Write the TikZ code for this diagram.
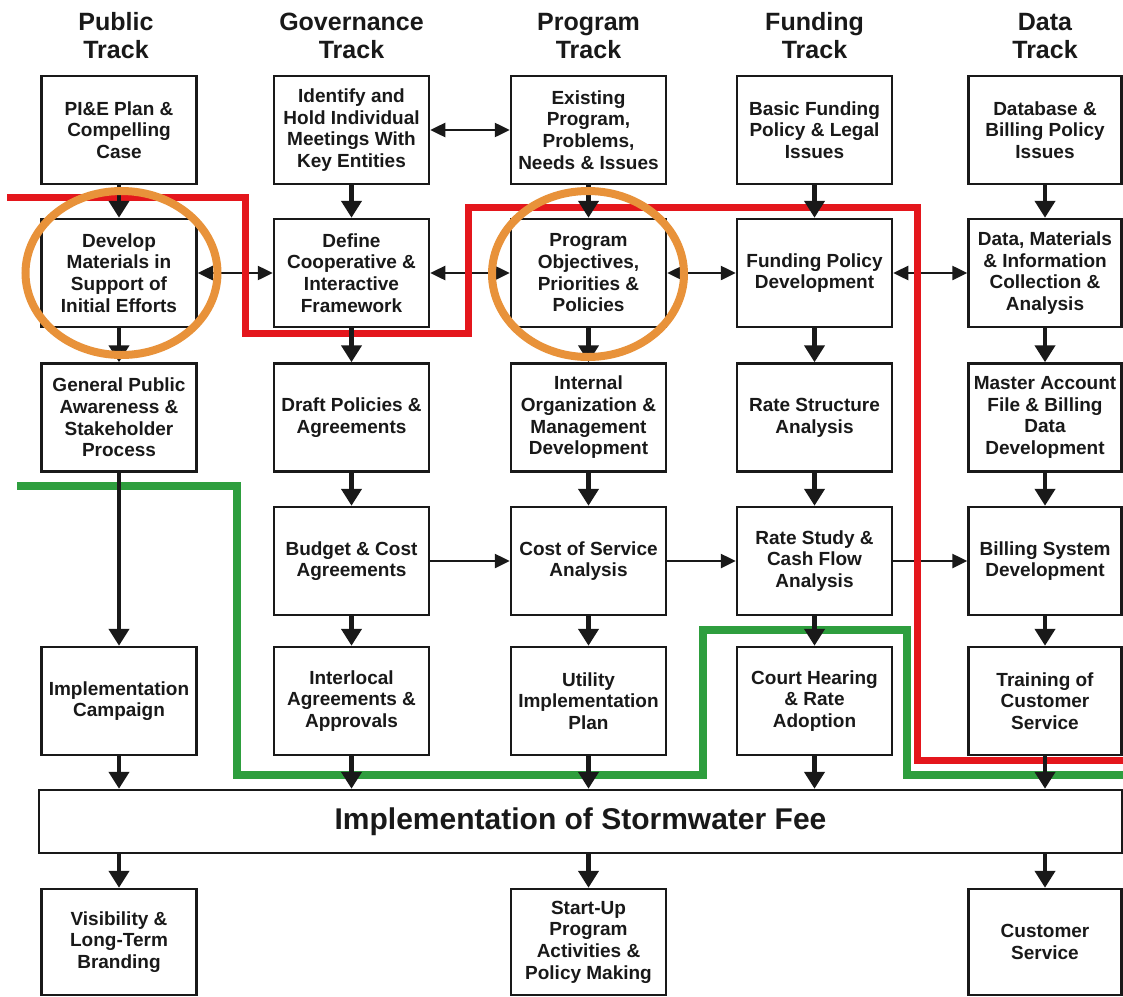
\documentclass[tikz,border=0pt]{standalone}
\usepackage{fontspec}
\setmainfont{Liberation Sans}
\usetikzlibrary{arrows.meta}
\definecolor{myred}{RGB}{228,22,28}
\definecolor{mygreen}{RGB}{46,158,62}
\definecolor{myorange}{RGB}{232,146,58}
\definecolor{ink}{RGB}{25,25,25}
\newcommand{\boxfont}{\fontsize{19}{21.7}\selectfont\bfseries}
\newcommand{\titlefont}{\fontsize{25}{28}\selectfont\bfseries}
\newcommand{\barfont}{\fontsize{30}{34}\selectfont\bfseries}
\tikzset{
  box/.style={draw=ink, text=ink, line width=2.5pt, minimum width=155pt, minimum height=108pt,
              align=center, inner sep=1pt, font=\boxfont, fill=white},
  title/.style={align=center, font=\titlefont, text=ink},
  varrow/.style={draw=ink, line width=4.5pt, -{Triangle[length=17pt,width=20pt]}},
  harrow/.style={draw=ink, line width=2.5pt, -{Triangle[length=15pt,width=14pt]}},
  hdarrow/.style={draw=ink, line width=2.5pt, {Triangle[length=15pt,width=14pt]}-{Triangle[length=15pt,width=14pt]}},
  redline/.style={draw=myred, line width=7pt, line join=miter},
  greenline/.style={draw=mygreen, line width=8pt, line join=miter},
  ring/.style={draw=myorange, line width=8pt},
}
\begin{document}
\begin{tikzpicture}[x=1pt,y=-1pt]
\useasboundingbox[fill=white] (0,0) rectangle (1123,996);

% titles
\node[title] (tp) at (116,36) {Public\\Track};
\node[title] (tg) at (351.5,36) {Governance\\Track};
\node[title] (tm) at (588.5,36) {Program\\Track};
\node[title] (tf) at (814.5,36) {Funding\\Track};
\node[title] (td) at (1045,36) {Data\\Track};

% row 1
\node[box] (p1) at (119,130) {PI\&E Plan \&\\Compelling\\Case};
\node[box] (g1) at (351.5,130) {Identify and\\Hold Individual\\Meetings With\\Key Entities};
\node[box] (m1) at (588.5,130) {Existing\\Program,\\Problems,\\Needs \& Issues};
\node[box] (f1) at (814.5,130) {Basic Funding\\Policy \& Legal\\Issues};
\node[box, minimum width=153pt] (d1) at (1045,130) {Database \&\\Billing Policy\\Issues};

% row 2
\node[box] (p2) at (119,273) {Develop\\Materials in\\Support of\\Initial Efforts};
\node[box] (g2) at (351.5,273) {Define\\Cooperative \&\\Interactive\\Framework};
\node[box] (m2) at (588.5,273) {Program\\Objectives,\\Priorities \&\\Policies};
\node[box] (f2) at (814.5,273) {Funding Policy\\Development};
\node[box, minimum width=153pt] (d2) at (1045,273) {Data, Materials\\\& Information\\Collection \&\\Analysis};

% row 3
\node[box] (p3) at (119,417.5) {General Public\\Awareness \&\\Stakeholder\\Process};
\node[box] (g3) at (351.5,417.5) {Draft Policies \&\\Agreements};
\node[box] (m3) at (588.5,417.5) {Internal\\Organization \&\\Management\\Development};
\node[box] (f3) at (814.5,417.5) {Rate Structure\\Analysis};
\node[box, minimum width=153pt] (d3) at (1045,417.5) {Master Account\\File \& Billing\\Data\\Development};

% row 4
\node[box] (g4) at (351.5,561) {Budget \& Cost\\Agreements};
\node[box] (m4) at (588.5,561) {Cost of Service\\Analysis};
\node[box] (f4) at (814.5,561) {Rate Study \&\\Cash Flow\\Analysis};
\node[box, minimum width=153pt] (d4) at (1045,561) {Billing System\\Development};

% row 5
\node[box] (p5) at (119,701) {Implementation\\Campaign};
\node[box] (g5) at (351.5,701) {Interlocal\\Agreements \&\\Approvals};
\node[box] (m5) at (588.5,701) {Utility\\Implementation\\Plan};
\node[box] (f5) at (814.5,701) {Court Hearing\\\& Rate\\Adoption};
\node[box, minimum width=153pt] (d5) at (1045,701) {Training of\\Customer\\Service};

% implementation bar
\node[draw=ink, text=ink, line width=2.5pt, minimum width=1083pt, minimum height=63pt, font=\barfont, fill=white]
  (bar) at (580.5,821.5) {Implementation of Stormwater Fee};

% row 6
\node[box, minimum height=106pt] (p6) at (119,942) {Visibility \&\\Long-Term\\Branding};
\node[box, minimum height=106pt] (m6) at (588.5,942) {Start-Up\\Program\\Activities \&\\Policy Making};
\node[box, minimum height=106pt, minimum width=153pt] (d6) at (1045,942) {Customer\\Service};

% horizontal connectors
\draw[hdarrow] (g1) -- (m1);
\draw[hdarrow] (p2) -- (g2);
\draw[hdarrow] (g2) -- (m2);
\draw[hdarrow] (m2) -- (f2);
\draw[hdarrow] (f2) -- (d2);
\draw[harrow] (g4) -- (m4);
\draw[harrow] (m4) -- (f4);
\draw[harrow] (f4) -- (d4);

% red and green boundary lines
\draw[redline] (7,197) -- (245,197) -- (245,333) -- (468,333) -- (468,207) -- (917,207) -- (917,760) -- (1123,760);
\draw[greenline] (17,486) -- (237,486) -- (237,775) -- (703,775) -- (703,630) -- (907,630) -- (907,775) -- (1123,775);

% vertical connectors
\draw[varrow] (p1) -- (p2);
\draw[varrow] (p2) -- (p3);
\draw[varrow] (p3) -- (p5);
\draw[varrow] (g1) -- (g2);
\draw[varrow] (g2) -- (g3);
\draw[varrow] (g3) -- (g4);
\draw[varrow] (g4) -- (g5);
\draw[varrow] (m1) -- (m2);
\draw[varrow] (m2) -- (m3);
\draw[varrow] (m3) -- (m4);
\draw[varrow] (m4) -- (m5);
\draw[varrow] (f1) -- (f2);
\draw[varrow] (f2) -- (f3);
\draw[varrow] (f3) -- (f4);
\draw[varrow] (f4) -- (f5);
\draw[varrow] (d1) -- (d2);
\draw[varrow] (d2) -- (d3);
\draw[varrow] (d3) -- (d4);
\draw[varrow] (d4) -- (d5);
\draw[varrow] (p5.south) -- (p5.south |- bar.north);
\draw[varrow] (g5.south) -- (g5.south |- bar.north);
\draw[varrow] (m5.south) -- (m5.south |- bar.north);
\draw[varrow] (f5.south) -- (f5.south |- bar.north);
\draw[varrow] (d5.south) -- (d5.south |- bar.north);
\draw[varrow] (bar.south -| p6.north) -- (p6.north);
\draw[varrow] (bar.south -| m6.north) -- (m6.north);
\draw[varrow] (bar.south -| d6.north) -- (d6.north);

% orange highlight rings
\draw[ring] (121.5,273) ellipse [x radius=96pt, y radius=82pt];
\draw[ring] (588,274) ellipse [x radius=96pt, y radius=83pt];
\end{tikzpicture}
\end{document}
